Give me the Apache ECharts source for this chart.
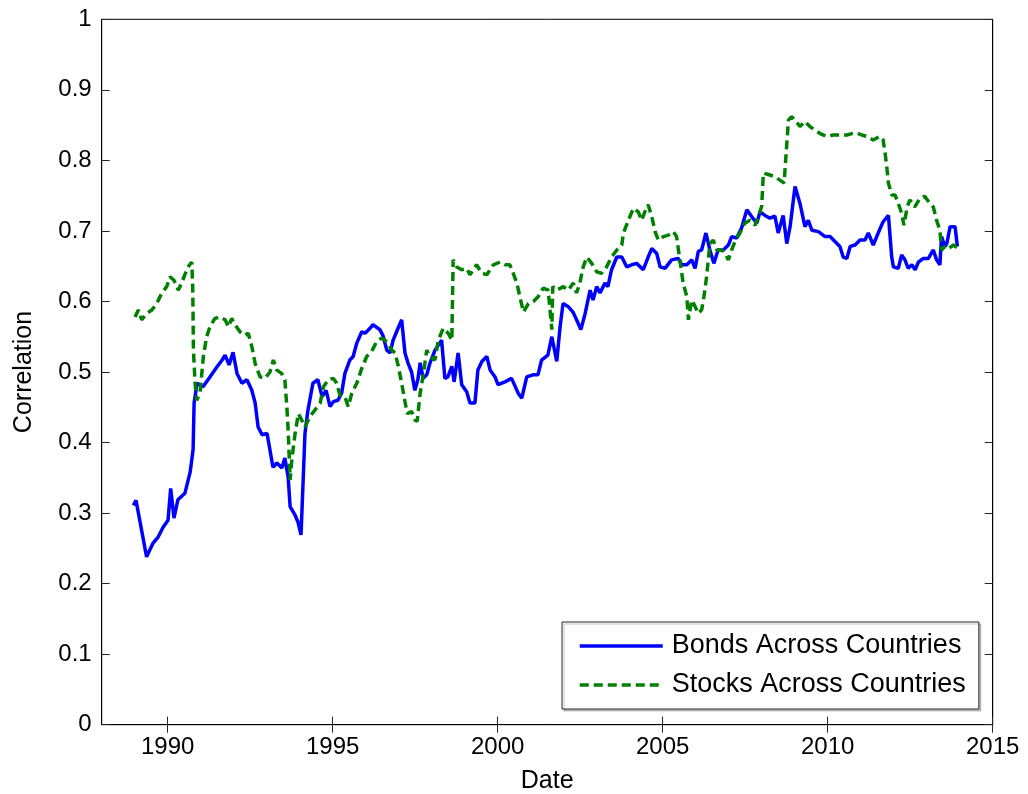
<!DOCTYPE html>
<html>
<head>
<meta charset="utf-8">
<script src="https://cdn.jsdelivr.net/npm/echarts@6/dist/echarts.min.js"></script>
<style>
  html, body { margin: 0; padding: 0; background: #fff; }
  #chart { width: 1028px; height: 794px; }
</style>
</head>
<body>
<div id="chart"></div>
<script>
// x values in decimal years
const bondYears = [1988.96, 1989.04, 1989.36, 1989.55, 1989.71, 1989.86, 1990.01, 1990.09, 1990.19, 1990.31, 1990.52, 1990.58, 1990.68, 1990.77, 1990.80, 1990.89,
  1991.07, 1991.28, 1991.49, 1991.65, 1991.74, 1991.86, 1991.98, 1992.10, 1992.25, 1992.40, 1992.55, 1992.65, 1992.74, 1992.86,
  1993.01, 1993.10, 1993.19, 1993.31, 1993.46, 1993.55, 1993.65, 1993.71, 1993.86, 1993.95, 1994.04, 1994.16, 1994.25, 1994.40,
  1994.55, 1994.68, 1994.80, 1994.92, 1995.02, 1995.16, 1995.27, 1995.37, 1995.52, 1995.62, 1995.73, 1995.88, 1995.98, 1996.13,
  1996.22, 1996.43, 1996.52, 1996.64, 1996.74, 1996.83, 1996.98, 1997.09, 1997.19, 1997.28, 1997.39, 1997.49, 1997.58, 1997.65,
  1997.74, 1997.85, 1997.95, 1998.10, 1998.30, 1998.40, 1998.49, 1998.61, 1998.68, 1998.80, 1998.91, 1999.06, 1999.16, 1999.31,
  1999.40, 1999.52, 1999.67, 1999.77, 1999.92, 2000.01, 2000.22, 2000.42, 2000.62, 2000.73, 2000.88, 2001.07, 2001.22, 2001.33,
  2001.52, 2001.64, 2001.79, 2001.89, 2001.98, 2002.13, 2002.28, 2002.39, 2002.52, 2002.65, 2002.80, 2002.89, 2003.00, 2003.10,
  2003.25, 2003.34, 2003.45, 2003.61, 2003.76, 2003.91, 2004.06, 2004.21, 2004.41, 2004.56, 2004.67, 2004.82, 2004.92, 2005.07,
  2005.27, 2005.47, 2005.58, 2005.73, 2005.88, 2005.98, 2006.08, 2006.18, 2006.31, 2006.43, 2006.55, 2006.68, 2006.84, 2006.99,
  2007.09, 2007.24, 2007.39, 2007.55, 2007.70, 2007.85, 2007.95, 2008.10, 2008.25, 2008.40, 2008.50, 2008.65, 2008.76, 2008.86,
  2009.01, 2009.16, 2009.31, 2009.41, 2009.52, 2009.72, 2009.92, 2010.07, 2010.22, 2010.37, 2010.47, 2010.58, 2010.68, 2010.83,
  2010.98, 2011.13, 2011.23, 2011.38, 2011.53, 2011.68, 2011.84, 2011.94, 2011.99, 2012.14, 2012.24, 2012.34, 2012.44, 2012.55,
  2012.65, 2012.75, 2012.90, 2013.05, 2013.20, 2013.30, 2013.40, 2013.45, 2013.55, 2013.61, 2013.71, 2013.86, 2013.93];
const bondVals = [0.311, 0.318, 0.238, 0.257, 0.266, 0.280, 0.290, 0.335, 0.293, 0.319, 0.328, 0.326, 0.358, 0.390, 0.456, 0.484,
  0.479, 0.493, 0.507, 0.517, 0.524, 0.510, 0.528, 0.498, 0.484, 0.489, 0.474, 0.456, 0.422, 0.411,
  0.413, 0.389, 0.365, 0.371, 0.364, 0.378, 0.351, 0.309, 0.297, 0.287, 0.269, 0.413, 0.446, 0.484,
  0.489, 0.465, 0.474, 0.451, 0.458, 0.460, 0.470, 0.498, 0.517, 0.522, 0.541, 0.557, 0.555, 0.562,
  0.567, 0.560, 0.552, 0.531, 0.527, 0.545, 0.562, 0.574, 0.527, 0.513, 0.500, 0.474, 0.489, 0.513,
  0.491, 0.496, 0.513, 0.531, 0.545, 0.491, 0.493, 0.508, 0.486, 0.527, 0.482, 0.472, 0.456, 0.456,
  0.503, 0.515, 0.522, 0.503, 0.493, 0.482, 0.486, 0.491, 0.470, 0.463, 0.493, 0.496, 0.496, 0.517,
  0.524, 0.550, 0.515, 0.564, 0.597, 0.593, 0.585, 0.574, 0.560, 0.583, 0.616, 0.602, 0.621, 0.612,
  0.626, 0.621, 0.645, 0.663, 0.663, 0.649, 0.652, 0.654, 0.645, 0.663, 0.675, 0.668, 0.649, 0.647,
  0.659, 0.661, 0.652, 0.652, 0.659, 0.647, 0.671, 0.673, 0.697, 0.673, 0.654, 0.673, 0.673, 0.680,
  0.692, 0.690, 0.704, 0.730, 0.720, 0.711, 0.727, 0.722, 0.718, 0.721, 0.697, 0.722, 0.682, 0.706,
  0.763, 0.739, 0.706, 0.715, 0.701, 0.699, 0.692, 0.692, 0.685, 0.678, 0.663, 0.661, 0.678, 0.680,
  0.687, 0.687, 0.697, 0.680, 0.697, 0.713, 0.722, 0.663, 0.649, 0.647, 0.666, 0.659, 0.647, 0.652,
  0.645, 0.656, 0.661, 0.661, 0.673, 0.659, 0.652, 0.692, 0.678, 0.682, 0.706, 0.706, 0.678];

const stockYears = [1989.01, 1989.11, 1989.21, 1989.36, 1989.52, 1989.67, 1989.82, 1989.97, 1990.07, 1990.19, 1990.32, 1990.42, 1990.52, 1990.62, 1990.73, 1990.76,
  1990.78, 1990.83, 1990.88, 1990.98, 1991.08, 1991.18, 1991.28, 1991.43, 1991.58, 1991.74, 1991.84, 1991.94, 1992.04, 1992.19,
  1992.34, 1992.44, 1992.55, 1992.65, 1992.80, 1992.95, 1993.10, 1993.20, 1993.30, 1993.45, 1993.55, 1993.61, 1993.65, 1993.71,
  1993.76, 1993.86, 1993.96, 1994.06, 1994.16, 1994.31, 1994.46, 1994.62, 1994.72, 1994.87, 1995.02, 1995.12, 1995.22, 1995.37,
  1995.47, 1995.58, 1995.73, 1995.88, 1996.03, 1996.18, 1996.33, 1996.48, 1996.58, 1996.68, 1996.79, 1996.89, 1996.99, 1997.09,
  1997.19, 1997.26, 1997.39, 1997.49, 1997.56, 1997.65, 1997.75, 1997.85, 1997.95, 1998.10, 1998.20, 1998.35, 1998.50, 1998.61,
  1998.65, 1998.76, 1998.91, 1999.06, 1999.16, 1999.36, 1999.52, 1999.67, 1999.87, 2000.07, 2000.22, 2000.37, 2000.47, 2000.58,
  2000.68, 2000.78, 2000.93, 2001.08, 2001.23, 2001.38, 2001.53, 2001.64, 2001.67, 2001.79, 2001.99, 2002.14, 2002.29, 2002.39,
  2002.49, 2002.59, 2002.70, 2002.85, 2003.00, 2003.15, 2003.30, 2003.45, 2003.61, 2003.76, 2003.81, 2003.96, 2004.11, 2004.26,
  2004.36, 2004.46, 2004.56, 2004.67, 2004.77, 2004.87, 2005.02, 2005.17, 2005.32, 2005.42, 2005.52, 2005.62, 2005.73, 2005.78,
  2005.88, 2005.98, 2006.08, 2006.18, 2006.25, 2006.33, 2006.43, 2006.53, 2006.64, 2006.79, 2006.89, 2006.99, 2007.09, 2007.19,
  2007.34, 2007.49, 2007.64, 2007.80, 2007.90, 2008.00, 2008.05, 2008.20, 2008.40, 2008.55, 2008.68, 2008.74, 2008.81, 2008.91,
  2009.01, 2009.16, 2009.31, 2009.46, 2009.61, 2009.77, 2009.97, 2010.17, 2010.37, 2010.58, 2010.73, 2010.88, 2011.03, 2011.18,
  2011.38, 2011.58, 2011.68, 2011.74, 2011.79, 2011.84, 2011.94, 2012.04, 2012.14, 2012.24, 2012.31, 2012.41, 2012.49, 2012.64,
  2012.79, 2012.94, 2013.10, 2013.20, 2013.30, 2013.40, 2013.45, 2013.55, 2013.66, 2013.81, 2013.96];
const stockVals = [0.578, 0.588, 0.574, 0.583, 0.588, 0.597, 0.612, 0.621, 0.635, 0.630, 0.616, 0.626, 0.638, 0.649, 0.656, 0.616,
  0.531, 0.484, 0.460, 0.470, 0.522, 0.550, 0.564, 0.576, 0.578, 0.574, 0.564, 0.576, 0.567, 0.557,
  0.552, 0.555, 0.536, 0.512, 0.493, 0.491, 0.500, 0.517, 0.503, 0.498, 0.489, 0.451, 0.418, 0.347,
  0.375, 0.413, 0.441, 0.432, 0.422, 0.437, 0.446, 0.456, 0.479, 0.489, 0.491, 0.484, 0.467, 0.465,
  0.451, 0.470, 0.484, 0.505, 0.522, 0.529, 0.543, 0.548, 0.545, 0.541, 0.531, 0.527, 0.508, 0.484,
  0.458, 0.441, 0.444, 0.432, 0.430, 0.470, 0.498, 0.531, 0.522, 0.517, 0.545, 0.562, 0.555, 0.545,
  0.659, 0.649, 0.645, 0.647, 0.638, 0.652, 0.640, 0.638, 0.652, 0.656, 0.652, 0.652, 0.640, 0.626,
  0.605, 0.585, 0.597, 0.600, 0.607, 0.619, 0.616, 0.560, 0.621, 0.616, 0.621, 0.616, 0.626, 0.612,
  0.626, 0.649, 0.663, 0.654, 0.642, 0.640, 0.649, 0.663, 0.673, 0.680, 0.697, 0.715, 0.732, 0.727,
  0.715, 0.727, 0.737, 0.720, 0.699, 0.687, 0.692, 0.694, 0.699, 0.692, 0.659, 0.626, 0.607, 0.574,
  0.602, 0.593, 0.583, 0.588, 0.607, 0.635, 0.682, 0.687, 0.673, 0.673, 0.668, 0.659, 0.673, 0.685,
  0.697, 0.711, 0.715, 0.708, 0.721, 0.735, 0.782, 0.780, 0.777, 0.772, 0.768, 0.810, 0.857, 0.862,
  0.857, 0.848, 0.855, 0.848, 0.843, 0.838, 0.834, 0.836, 0.836, 0.836, 0.838, 0.839, 0.836, 0.834,
  0.829, 0.834, 0.829, 0.810, 0.791, 0.768, 0.751, 0.751, 0.739, 0.725, 0.708, 0.734, 0.744, 0.734,
  0.746, 0.749, 0.739, 0.734, 0.715, 0.701, 0.673, 0.678, 0.675, 0.680, 0.675];

const xTicks = [1990, 1995, 2000, 2005, 2010, 2015];
const seriesNames = ["Bonds Across Countries", "Stocks Across Countries"];

const FONT = "Liberation Sans, Arial, Helvetica, sans-serif";

const toPairs = (xs, ys) => xs.map((x, i) => [x, ys[i]]);

const chart = echarts.init(document.getElementById("chart"), null, { renderer: "canvas" });

const tickStyle = {
  show: true,
  inside: true,
  length: 8,
  lineStyle: { color: "#262626", width: 1 },
};

let options = {
  animation: false,
  backgroundColor: "#ffffff",
  textStyle: { fontFamily: FONT },
  grid: {
    left: 101.7,
    right: 35.3,
    top: 19.3,
    bottom: 69.3,
    containLabel: false,
    outerBoundsMode: "none",
    show: true,
    borderColor: "#000000",
    borderWidth: 1,
    backgroundColor: "transparent",
  },
  legend: {
    data: seriesNames,
    orient: "vertical",
    left: 562,
    top: 622,
    itemWidth: 83,
    itemHeight: 14,
    itemGap: 9,
    padding: [9, 13, 9, 16],
    backgroundColor: "#ffffff",
    borderColor: "#262626",
    borderWidth: 1,
    borderRadius: 0,
    shadowColor: "rgba(0,0,0,0.22)",
    shadowOffsetX: 2,
    shadowOffsetY: 2,
    shadowBlur: 0,
    itemStyle: { opacity: 0 },
    lineStyle: { width: 3.5 },
    textStyle: { fontSize: 27, color: "#000000", fontFamily: FONT, lineHeight: 30, padding: [0, 0, 0, 4] },
  },
  xAxis: [
    {
      type: "value",
      min: 1988,
      max: 2015,
      name: "Date",
      nameLocation: "middle",
      nameGap: 44,
      nameTextStyle: { fontSize: 25, color: "#000000", fontFamily: FONT },
      axisLine: { show: true, lineStyle: { color: "#000000", width: 1 } },
      axisTick: { ...tickStyle, customValues: xTicks },
      axisLabel: {
        customValues: xTicks,
        fontSize: 24,
        color: "#000000",
        fontFamily: FONT,
        margin: 11,
        formatter: (v) => String(v),
      },
      splitLine: { show: false },
    },
    {
      type: "value",
      position: "top",
      min: 1988,
      max: 2015,
      axisLine: { show: true, lineStyle: { color: "#000000", width: 1 } },
      axisTick: { ...tickStyle, customValues: xTicks },
      axisLabel: { show: false },
      splitLine: { show: false },
    },
  ],
  yAxis: [
    {
      type: "value",
      min: 0,
      max: 1,
      interval: 0.1,
      name: "Correlation",
      nameLocation: "middle",
      nameGap: 65,
      nameRotate: 90,
      nameTextStyle: { fontSize: 25, color: "#000000", fontFamily: FONT },
      axisLine: { show: true, lineStyle: { color: "#000000", width: 1 } },
      axisTick: tickStyle,
      axisLabel: {
        fontSize: 24,
        color: "#000000",
        fontFamily: FONT,
        margin: 10,
        formatter: (v) => String(Math.round(v * 10) / 10),
      },
      splitLine: { show: false },
    },
    {
      type: "value",
      position: "right",
      min: 0,
      max: 1,
      interval: 0.1,
      axisLine: { show: true, lineStyle: { color: "#000000", width: 1 } },
      axisTick: tickStyle,
      axisLabel: { show: false },
      splitLine: { show: false },
    },
  ],
  series: [
    {
      name: seriesNames[0],
      type: "line",
      xAxisIndex: 0,
      yAxisIndex: 0,
      data: toPairs(bondYears, bondVals),
      symbol: "none",
      smooth: false,
      color: "#0000ff",
      lineStyle: { color: "#0000ff", width: 3.5 },
      z: 3,
    },
    {
      name: seriesNames[1],
      type: "line",
      xAxisIndex: 0,
      yAxisIndex: 0,
      data: toPairs(stockYears, stockVals),
      symbol: "none",
      smooth: false,
      color: "#008000",
      lineStyle: { color: "#008000", width: 3.5, type: [9, 5] },
      z: 4,
    },
  ],
};

chart.setOption(options, true);
</script>
</body>
</html>
